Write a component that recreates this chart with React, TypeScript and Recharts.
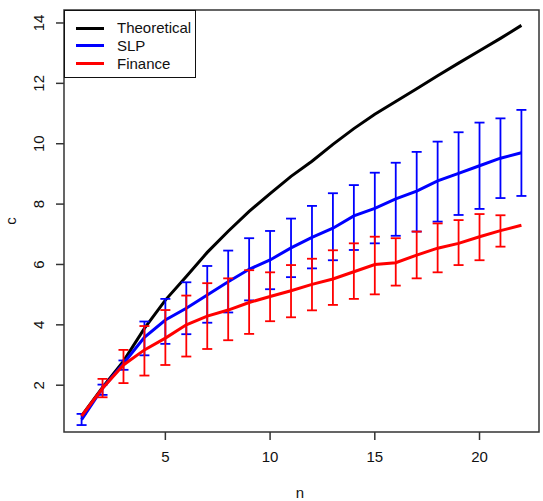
import { LineChart, Line, XAxis, YAxis, ErrorBar, ReferenceArea } from 'recharts'

const nValues = [1, 2, 3, 4, 5, 6, 7, 8, 9, 10, 11, 12, 13, 14, 15, 16, 17, 18, 19, 20, 21, 22]

const theoretical = [0.98, 1.93, 2.8, 3.88, 4.82, 5.6, 6.4, 7.1, 7.76, 8.35, 8.92, 9.42, 9.98, 10.5, 10.98, 11.4, 11.82, 12.25, 12.67, 13.08, 13.49, 13.92]

const slpMean = [0.86, 1.9, 2.72, 3.59, 4.16, 4.55, 4.99, 5.43, 5.84, 6.15, 6.55, 6.9, 7.2, 7.61, 7.86, 8.17, 8.43, 8.77, 9.02, 9.27, 9.52, 9.7]
const slpLow = [0.68, 1.68, 2.51, 2.99, 3.37, 3.69, 4.07, 4.41, 4.81, 5.18, 5.58, 5.87, 6.14, 6.48, 6.7, 6.95, 7.09, 7.42, 7.64, 7.84, 8.2, 8.27]
const slpHigh = [1.05, 2.02, 2.82, 4.11, 4.86, 5.41, 5.95, 6.46, 6.87, 7.11, 7.52, 7.94, 8.36, 8.63, 9.04, 9.37, 9.73, 10.07, 10.38, 10.7, 10.84, 11.12]

const financeMean = [0.98, 1.9, 2.67, 3.17, 3.56, 4.0, 4.29, 4.49, 4.74, 4.94, 5.13, 5.34, 5.52, 5.76, 6.0, 6.06, 6.31, 6.54, 6.7, 6.92, 7.12, 7.3]
const financeLow = [0.98, 1.6, 2.07, 2.32, 2.67, 2.95, 3.2, 3.49, 3.7, 4.12, 4.25, 4.48, 4.66, 4.86, 5.01, 5.3, 5.54, 5.74, 5.98, 6.14, 6.59, 7.3]
const financeHigh = [0.98, 2.21, 3.17, 3.96, 4.49, 4.97, 5.38, 5.54, 5.81, 5.74, 5.98, 6.19, 6.47, 6.7, 6.92, 6.87, 7.09, 7.36, 7.47, 7.67, 7.63, 7.3]

const xTicks = [5, 10, 15, 20]
const yTicks = [2, 4, 6, 8, 10, 12, 14]
const xDomain = [0.16, 22.84]
const yDomain = [0.45, 14.43]

const FONT = '"Liberation Sans", Arial, sans-serif'

const data = nValues.map((n, i) => ({
  n,
  theoretical: theoretical[i],
  slp: slpMean[i],
  slpErr: [slpMean[i] - slpLow[i], slpHigh[i] - slpMean[i]],
  finance: financeMean[i],
  // no bar where the spread is zero (first and last point)
  financeErr: financeHigh[i] > financeLow[i] ? [financeMean[i] - financeLow[i], financeHigh[i] - financeMean[i]] : null,
}))

const legendItems = [
  { name: 'Theoretical', color: '#000000' },
  { name: 'SLP', color: '#0000FF' },
  { name: 'Finance', color: '#FF0000' },
]

function XTick({ x, y, payload }: any) {
  return (
    <text x={x} y={y} dy={20} textAnchor="middle" fontSize={15} fontFamily={FONT} fill="#111">
      {payload.value}
    </text>
  )
}

function YTick({ y, payload }: any) {
  return (
    <text transform={`translate(43.5, ${y}) rotate(-90)`} textAnchor="middle" fontSize={15} fontFamily={FONT} fill="#111">
      {payload.value}
    </text>
  )
}

export default function App() {
  return (
    <div style={{ position: 'absolute', left: 0, top: 0, width: 543, height: 501, background: '#fff' }}>
      <LineChart width={543} height={501} data={data} margin={{ top: 10, right: 4, bottom: 0, left: 4 }}>
        <XAxis
          dataKey="n"
          type="number"
          domain={xDomain}
          ticks={xTicks}
          allowDataOverflow
          axisLine={false}
          tickLine={{ stroke: '#333', strokeWidth: 1.5 }}
          tickSize={8}
          tick={<XTick />}
          height={69}
        />
        <YAxis
          type="number"
          domain={yDomain}
          ticks={yTicks}
          allowDataOverflow
          axisLine={false}
          tickLine={{ stroke: '#333', strokeWidth: 1.5 }}
          tickSize={8}
          tick={<YTick />}
          width={60}
        />
        <ReferenceArea
          x1={xDomain[0]}
          x2={xDomain[1]}
          y1={yDomain[0]}
          y2={yDomain[1]}
          fill="none"
          stroke="#333"
          strokeWidth={1.5}
          strokeOpacity={1}
          ifOverflow="visible"
        />
        <Line type="linear" dataKey="theoretical" stroke="#000000" strokeWidth={3} dot={false} isAnimationActive={false} />
        <Line type="linear" dataKey="slp" stroke="#0000FF" strokeWidth={3} dot={false} isAnimationActive={false}>
          <ErrorBar dataKey="slpErr" direction="y" width={5} strokeWidth={1.8} stroke="#0000FF" isAnimationActive={false} />
        </Line>
        <Line type="linear" dataKey="finance" stroke="#FF0000" strokeWidth={3} dot={false} isAnimationActive={false}>
          <ErrorBar dataKey="financeErr" direction="y" width={5} strokeWidth={1.8} stroke="#FF0000" isAnimationActive={false} />
        </Line>
      </LineChart>
      <svg width={543} height={501} style={{ position: 'absolute', left: 0, top: 0, pointerEvents: 'none' }}>
        <text x={300} y={498} textAnchor="middle" fontSize={15} fontFamily={FONT} fill="#111">n</text>
        <text transform="translate(16, 221) rotate(-90)" textAnchor="middle" fontSize={15} fontFamily={FONT} fill="#111">c</text>
      </svg>
      <div
        style={{
          position: 'absolute',
          left: 64,
          top: 10,
          width: 132,
          height: 68,
          border: '1px solid #111',
          background: '#fff',
          boxSizing: 'border-box',
          fontFamily: FONT,
          fontSize: 15,
          color: '#111',
        }}
      >
        {legendItems.map((item, i) => (
          <div key={item.name} style={{ position: 'absolute', left: 0, top: 8 + i * 17.8, height: 18, display: 'flex', alignItems: 'center' }}>
            <span style={{ display: 'inline-block', marginLeft: 11, width: 28, height: 3, background: item.color }} />
            <span style={{ marginLeft: 13, lineHeight: '18px' }}>{item.name}</span>
          </div>
        ))}
      </div>
    </div>
  )
}
